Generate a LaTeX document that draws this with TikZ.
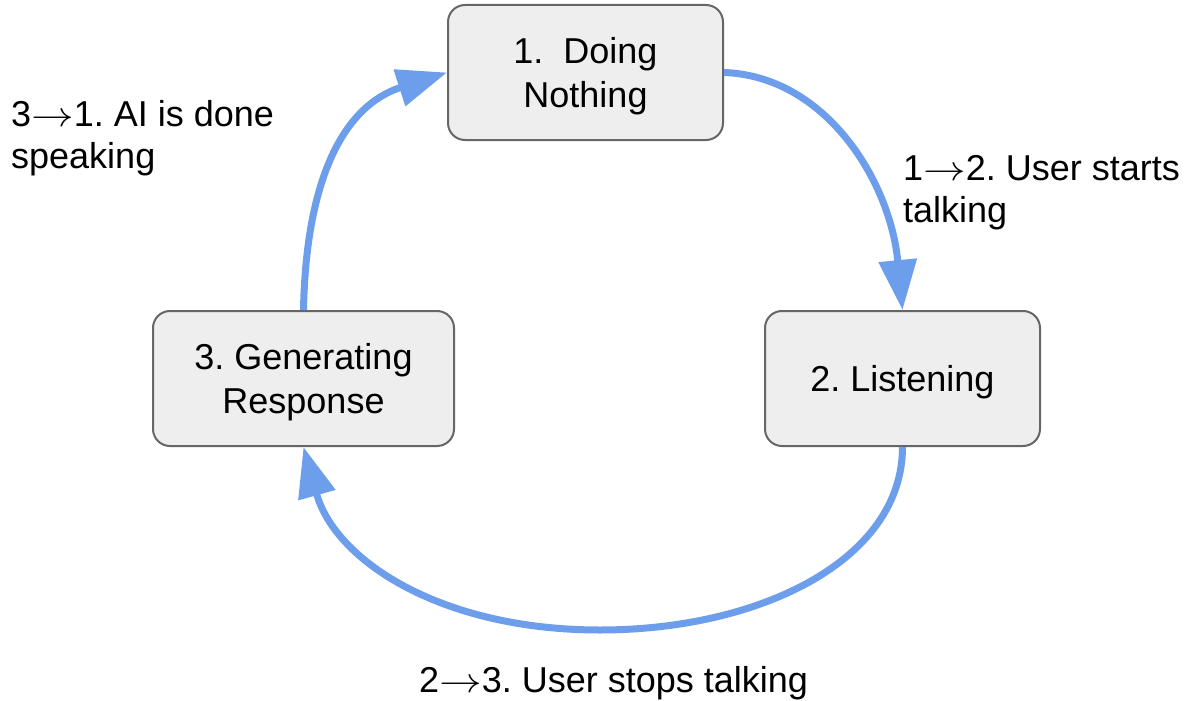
\documentclass[tikz,border=0pt]{standalone}
\usepackage{graphicx}
\usepackage{fontspec}
\setmainfont{Liberation Sans}
\usetikzlibrary{arrows.meta}
\frenchspacing
\definecolor{flowblue}{HTML}{6D9EEB}
\definecolor{boxfill}{HTML}{EEEEEE}
\definecolor{boxline}{HTML}{666666}
% long thin transition arrow, stretched sideways
\newcommand{\tr}{\scalebox{1.22}[1]{\resizebox{0.97em}{!}{$\rightarrow$}}}
\tikzset{
  statebox/.style={draw=boxline, line width=2pt, fill=boxfill, rounded corners=17pt,
    minimum height=135pt, inner sep=0pt, align=center, text depth=0pt,
    font=\fontsize{36}{44}\selectfont},
  flow/.style={draw=flowblue, line width=7pt,
    -{Triangle[length=50pt, width=37pt]}},
  note/.style={inner sep=0pt, align=left, font=\fontsize{36}{42}\selectfont}
}
\begin{document}
\begin{tikzpicture}[x=1pt, y=-1pt]
  \useasboundingbox (0,0) rectangle (1187,701);

  % states
  \node[statebox, minimum width=275pt] (b1) at (585.5,72.5) {1.\ \ Doing\\Nothing};
  \node[statebox, minimum width=275pt] (b2) at (902.5,378.5) {2. Listening};
  \node[statebox, minimum width=301pt] (b3) at (303.5,378.5) {3. Generating\\Response};

  % transitions
  \draw[flow] (b1.east) .. controls (825,76) and (890,180) .. (b2.north);
  \draw[flow] (b2.south) .. controls (902.5,560) and (760,630) .. (600,630)
                         .. controls (440,630) and (335,560) .. (b3.south);
  \draw[flow] (b3.north) .. controls (306,180) and (343,106) .. (b1.west);

  % transition labels (base anchor sits on the last line)
  \node[note, anchor=base west] (l31) at (11,168) {3\tr1. AI is done\\speaking};
  \node[note, anchor=base west] (l12) at (903,222) {1\tr2. User starts\\talking};
  \node[note, anchor=base west] (l23) at (419,692) {2\tr3. User stops talking};
\end{tikzpicture}
\end{document}
